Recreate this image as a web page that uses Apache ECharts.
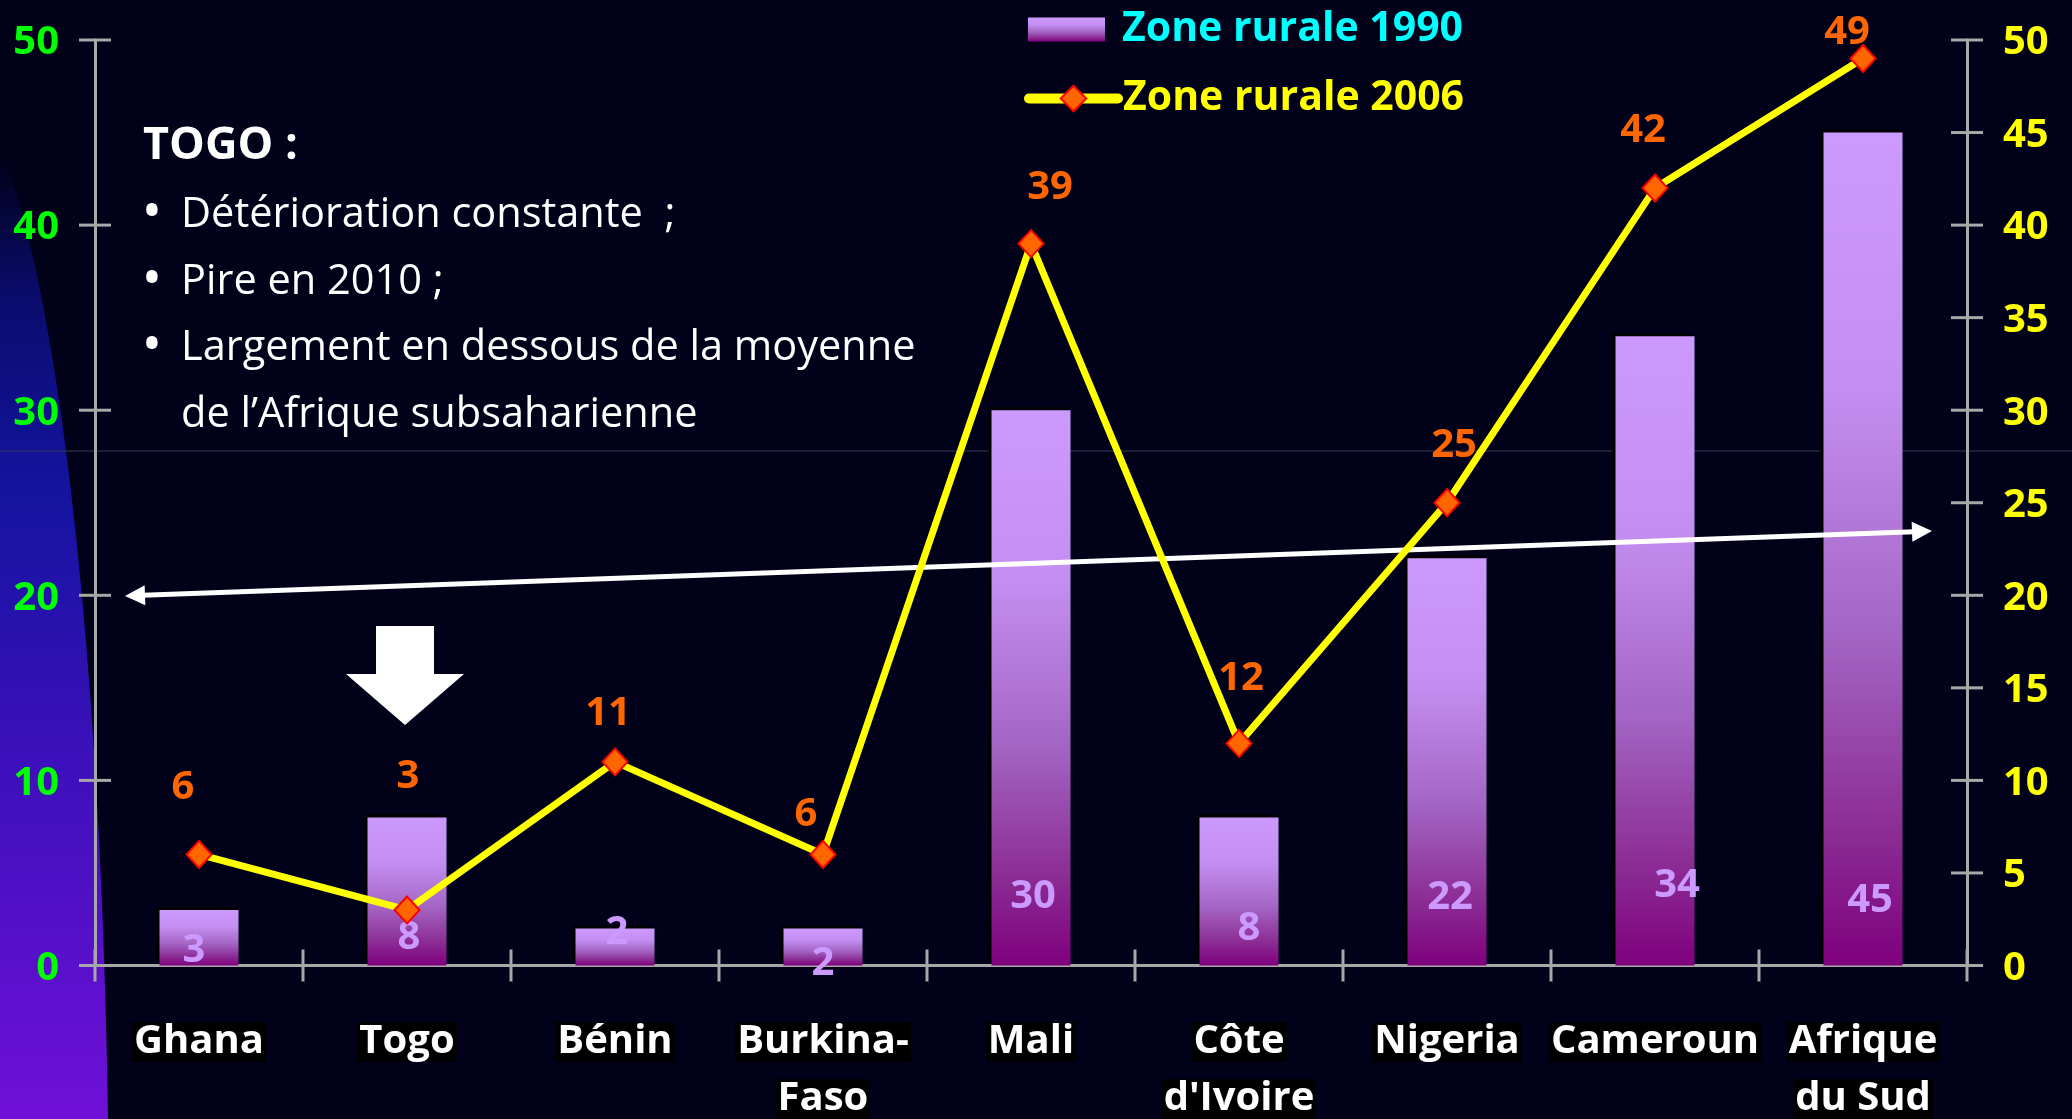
<!DOCTYPE html>
<html>
<head>
<meta charset="utf-8">
<title>Zone rurale 1990 / 2006</title>
<script src="https://cdn.jsdelivr.net/npm/echarts@6/dist/echarts.min.js"></script>
<style>
  html, body { margin: 0; padding: 0; background: #01011a; }
  #chart { width: 2072px; height: 1119px; }
</style>
</head>
<body>
<div id="chart"></div>
<script>
// data
const COUNTRIES = ['Ghana', 'Togo', 'Bénin', 'Burkina-\nFaso', 'Mali', 'Côte\nd\'Ivoire', 'Nigeria', 'Cameroun', 'Afrique\ndu Sud']
const RURAL_1990 = [3, 8, 2, 2, 30, 8, 22, 34, 45]
const RURAL_2006 = [6, 3, 11, 6, 39, 12, 25, 42, 49]
const Y_MIN = 0
const Y_MAX = 50
const LEFT_STEP = 10
const RIGHT_STEP = 5
const SERIES_NAMES = ['Zone rurale 1990', 'Zone rurale 2006']
const NOTE_TITLE = 'TOGO :'
const NOTE_LINES = ['Détérioration constante  ;', 'Pire en 2010 ;', 'Largement en dessous de la moyenne', 'de l’Afrique subsaharienne']

// label nudges (px), the slide has hand placed labels
const barLabelNudge = [[-5, -15], [2, -28], [2, -33], [0, -2], [2, -69], [10, -37], [3, -68], [22, -80], [7, -65]]
const lineLabelNudge = [[-16, -67], [1, -133], [-7, -48], [-17, -40], [19, -56], [2, -65], [7, -57], [-12, -57], [-16, -26]]

const FONT = '"Open Sans", "DejaVu Sans", sans-serif'
const AXIS_GREY = '#a8a8a8'
const TICK_HALF = 16

let chart = echarts.init(document.getElementById('chart'))

let vGradient = (stops) => ({
  type: 'linear', x: 0, y: 0, x2: 0, y2: 1,
  colorStops: stops.map(s => ({ offset: s[0], color: s[1] }))
})

let barGradient = vGradient([[0, '#cc99ff'], [0.3, '#c48ff3'], [0.6, '#a466c4'], [0.85, '#8a2a92'], [1, '#7f007f']])

let arrowHead = (tip, from, len, half) => {
  let dx = tip[0] - from[0]
  let dy = tip[1] - from[1]
  let d = Math.sqrt(dx * dx + dy * dy)
  let ux = dx / d
  let uy = dy / d
  let bx = tip[0] - ux * len
  let by = tip[1] - uy * len
  return [tip, [bx - uy * half, by + ux * half], [bx + uy * half, by - ux * half]]
}

// outline of the blue swoosh on the left of the slide (cubic curve, sampled)
let swoosh = () => {
  let p = [[0, 150], [50, 260], [100, 600], [108, 1119]]
  let pts = []
  for (let k = 0; k <= 40; k++) {
    let t = k / 40
    let a = (1 - t) * (1 - t) * (1 - t)
    let b = 3 * (1 - t) * (1 - t) * t
    let c = 3 * (1 - t) * t * t
    let d = t * t * t
    pts.push([a * p[0][0] + b * p[1][0] + c * p[2][0] + d * p[3][0],
      a * p[0][1] + b * p[1][1] + c * p[2][1] + d * p[3][1]])
  }
  pts.push([0, 1119])
  return pts
}

// white double arrow across the chart
let arrowL = [125, 596]
let arrowR = [1932, 531]

let graphics = [
  {
    type: 'polygon',
    z: -20,
    silent: true,
    shape: { points: swoosh() },
    style: {
      fill: vGradient([[0, '#000014'], [0.15, '#0a0c6c'], [0.35, '#1414a0'], [0.6, '#3810b8'], [1, '#7010d8']])
    }
  },
  {
    type: 'line',
    z: -10,
    silent: true,
    shape: { x1: 0, y1: 451, x2: 2072, y2: 451 },
    style: { stroke: '#3a3a55', lineWidth: 1 }
  },
  {
    type: 'line',
    z: 3,
    silent: true,
    shape: { x1: arrowL[0] + 18, y1: arrowL[1] - 0.65, x2: arrowR[0] - 18, y2: arrowR[1] + 0.65 },
    style: { stroke: '#ffffff', lineWidth: 5 }
  },
  { type: 'polygon', z: 3, silent: true, shape: { points: arrowHead(arrowL, arrowR, 20, 10) }, style: { fill: '#ffffff' } },
  { type: 'polygon', z: 3, silent: true, shape: { points: arrowHead(arrowR, arrowL, 20, 10) }, style: { fill: '#ffffff' } },
  { // block arrow pointing at Togo
    type: 'polygon',
    z: 3,
    silent: true,
    shape: { points: [[376, 626], [434, 626], [434, 674], [464, 674], [405, 725], [346, 674], [376, 674]] },
    style: { fill: '#ffffff' }
  },
  {
    type: 'text',
    z: 10,
    x: 143,
    y: 146,
    style: { text: NOTE_TITLE, fill: '#ffffff', fontFamily: FONT, fontSize: 45, fontWeight: 'bold', verticalAlign: 'middle' }
  }
]

let noteY = [215, 282, 348, 415]
NOTE_LINES.forEach((line, i) => {
  if (i < 3) {
    graphics.push({
      type: 'text', z: 10, x: 152, y: noteY[i],
      style: { text: '•', fill: '#ffffff', fontFamily: FONT, fontSize: 54, align: 'center', verticalAlign: 'middle' }
    })
  }
  graphics.push({
    type: 'text', z: 10, x: 181, y: noteY[i],
    style: { text: line, fill: '#ffffff', fontFamily: FONT, fontSize: 41.5, verticalAlign: 'middle' }
  })
})

let tickStyle = { color: AXIS_GREY, width: 3 }

let valueAxis = (pos, step, labelColor) => ({
  type: 'value',
  position: pos,
  min: Y_MIN,
  max: Y_MAX,
  interval: step,
  splitLine: { show: false },
  axisLine: { show: true, lineStyle: tickStyle },
  axisTick: { show: false }, // ticks cross the line on the slide, drawn below
  axisLabel: {
    margin: 36,
    formatter: (v) => '{n|' + v + '}',
    rich: { n: { color: labelColor, fontSize: 40, fontWeight: 'bold', fontFamily: FONT, padding: [6, 0, 0, 0] } }
  }
})

let option = {
  backgroundColor: '#01011a',
  animation: false,
  textStyle: { fontFamily: FONT },
  graphic: graphics,
  grid: { left: 95, right: 105, top: 40, bottom: 153 },
  legend: [
    {
      data: [SERIES_NAMES[0]],
      left: 1028,
      top: 9,
      padding: 0,
      icon: 'rect',
      itemWidth: 77,
      itemHeight: 24,
      textStyle: { color: '#00ffff', fontSize: 41, fontWeight: 'bold', fontFamily: FONT, padding: [0, 0, 0, 12] }
    },
    {
      data: [SERIES_NAMES[1]],
      left: 1024,
      top: 78,
      padding: 0,
      itemWidth: 89,
      itemHeight: 32,
      lineStyle: { width: 10, cap: 'round' },
      textStyle: { color: '#ffff00', fontSize: 41, fontWeight: 'bold', fontFamily: FONT }
    }
  ],
  xAxis: {
    type: 'category',
    data: COUNTRIES,
    axisLine: { lineStyle: tickStyle },
    axisTick: { show: false },
    axisLabel: {
      interval: 0,
      margin: 48,
      formatter: (v) => v.split('\n').map(s => '{b|' + s + '}').join('\n'),
      rich: {
        b: {
          color: '#ffffff',
          fontSize: 40,
          fontWeight: 'bold',
          fontFamily: FONT,
          lineHeight: 57,
          backgroundColor: '#000000',
          padding: [0, 2]
        }
      }
    }
  },
  yAxis: [
    valueAxis('left', LEFT_STEP, '#00ff00'),
    valueAxis('right', RIGHT_STEP, '#ffff00')
  ],
  series: [
    {
      name: SERIES_NAMES[0],
      type: 'bar',
      yAxisIndex: 0,
      barWidth: 79,
      z: 2,
      itemStyle: {
        color: barGradient,
        shadowColor: '#000000',
        shadowOffsetX: -3,
        shadowOffsetY: -3
      },
      label: {
        show: true,
        position: ['50%', '100%'],
        align: 'center',
        verticalAlign: 'middle',
        color: '#cc99ff',
        fontSize: 40,
        fontWeight: 'bold',
        fontFamily: FONT
      },
      data: RURAL_1990.map((v, i) => ({ value: v, label: { offset: barLabelNudge[i] } }))
    },
    {
      name: SERIES_NAMES[1],
      type: 'line',
      yAxisIndex: 1,
      z: 5,
      symbol: 'diamond',
      symbolSize: [25, 27],
      lineStyle: { color: '#ffff00', width: 7 },
      itemStyle: { color: '#ff6600', borderColor: '#ff0000', borderWidth: 2 },
      label: {
        show: true,
        position: 'inside',
        align: 'center',
        verticalAlign: 'middle',
        color: '#ff6600',
        fontSize: 40,
        fontWeight: 'bold',
        fontFamily: FONT
      },
      data: RURAL_2006.map((v, i) => ({ value: v, label: { offset: lineLabelNudge[i] } }))
    }
  ]
}

chart.setOption(option)

// cross ticks, placed through the axes' own scales
let tickLine = (x1, y1, x2, y2) => ({
  type: 'line', z: 4, silent: true,
  shape: { x1: x1, y1: y1, x2: x2, y2: y2 },
  style: { stroke: AXIS_GREY, lineWidth: 3 }
})
let ticks = []
let axisY0 = chart.convertToPixel({ yAxisIndex: 0 }, Y_MIN)
let leftX = chart.convertToPixel({ xAxisIndex: 0 }, 0)
let band = chart.convertToPixel({ xAxisIndex: 0 }, 1) - leftX
leftX -= band / 2
let rightX = leftX + band * COUNTRIES.length
for (let v = Y_MIN; v <= Y_MAX; v += LEFT_STEP) {
  let y = chart.convertToPixel({ yAxisIndex: 0 }, v)
  ticks.push(tickLine(leftX - TICK_HALF, y, leftX + TICK_HALF, y))
}
for (let v = Y_MIN; v <= Y_MAX; v += RIGHT_STEP) {
  let y = chart.convertToPixel({ yAxisIndex: 1 }, v)
  ticks.push(tickLine(rightX - TICK_HALF, y, rightX + TICK_HALF, y))
}
for (let k = 0; k <= COUNTRIES.length; k++) {
  let x = leftX + band * k
  ticks.push(tickLine(x, axisY0 - TICK_HALF, x, axisY0 + TICK_HALF))
}
chart.setOption({ graphic: graphics.concat(ticks) })
</script>
</body>
</html>
